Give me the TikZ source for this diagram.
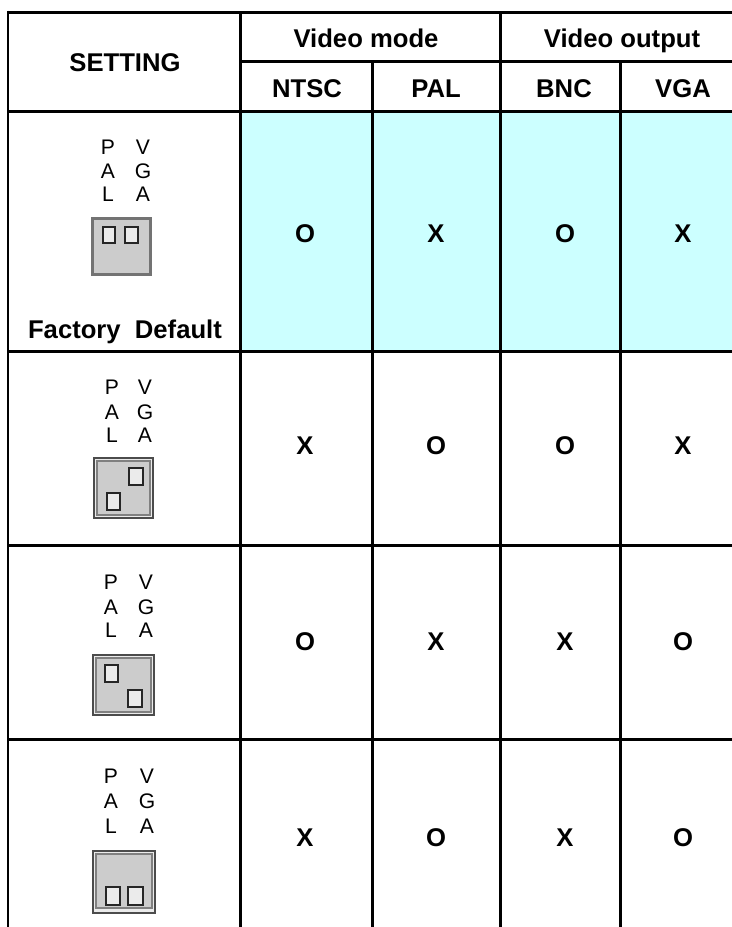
\documentclass[tikz,border=0pt]{standalone}
\usepackage{fontspec}
\setmainfont{Liberation Sans}
\definecolor{rowcolor}{HTML}{CCFFFF}

\begin{document}
\begin{tikzpicture}[x=0.02cm, y=-0.02cm,
    rule/.style={line width=0.06cm, black},
    jumperbox/.style={draw=black!70, line width=0.03cm, fill=black!8},
    jumperrim/.style={draw=black!50, line width=0.025cm, fill=black!20},
    jumperpin/.style={draw=black!85, line width=0.04cm, fill=black!8}]

  \useasboundingbox (0,0) rectangle (732,927);

  % Fondo de la fila de fabrica
  \fill[rowcolor] (240,111) rectangle (732,351);

  % Lineas de la tabla
  \draw[rule] (8,12) -- (732,12);
  \draw[rule] (240,61) -- (732,61);
  \draw[rule] (8,111) -- (732,111);
  \draw[rule] (8,351) -- (732,351);
  \draw[rule] (8,545) -- (732,545);
  \draw[rule] (8,739) -- (732,739);
  \draw[rule] (8,10.5) -- (8,927);
  \draw[rule] (240,12) -- (240,927);
  \draw[rule] (372,61) -- (372,927);
  \draw[rule] (500,12) -- (500,927);
  \draw[rule] (620,61) -- (620,927);

  % Encabezados
  \begin{scope}[every node/.style={anchor=base, font=\fontsize{14.6}{16}\selectfont\bfseries}]
    \node (setting) at (125,71) {SETTING};
    \node (mode) at (366,47) {Video mode};
    \node (output) at (622,47) {Video output};
    \node (ntsc) at (307,97) {NTSC};
    \node (pal) at (436,97) {PAL};
    \node (bnc) at (564,97) {BNC};
    \node (vga) at (683,97) {VGA};
    \node (default) at (125,338) {Factory\ \ Default};
  \end{scope}

  % Marcas
  \begin{scope}[every node/.style={font=\fontsize{14.6}{16}\selectfont\bfseries}]
    \node (a1) at (305,234) {O};
    \node (a2) at (436,234) {X};
    \node (a3) at (565,234) {O};
    \node (a4) at (683,234) {X};
    \node (b1) at (305,446) {X};
    \node (b2) at (436,446) {O};
    \node (b3) at (565,446) {O};
    \node (b4) at (683,446) {X};
    \node (c1) at (305,642) {O};
    \node (c2) at (436,642) {X};
    \node (c3) at (565,642) {X};
    \node (c4) at (683,642) {O};
    \node (d1) at (305,838) {X};
    \node (d2) at (436,838) {O};
    \node (d3) at (565,838) {X};
    \node (d4) at (683,838) {O};
  \end{scope}

  % Rotulos de los puentes
  \begin{scope}[every node/.style={font=\fontsize{12}{14}\selectfont, inner sep=0pt}]
    \node (p1) at (108,147) {P};
    \node (p2) at (108,171) {A};
    \node (p3) at (108,194) {L};
    \node (v1) at (143,147) {V};
    \node (v2) at (143,171) {G};
    \node (v3) at (143,194) {A};

    \node (q1) at (112,387) {P};
    \node (q2) at (112,412) {A};
    \node (q3) at (112,435) {L};
    \node (w1) at (145,387) {V};
    \node (w2) at (145,412) {G};
    \node (w3) at (145,435) {A};

    \node (r1) at (111,582) {P};
    \node (r2) at (111,607) {A};
    \node (r3) at (111,630) {L};
    \node (x1) at (146,582) {V};
    \node (x2) at (146,607) {G};
    \node (x3) at (146,630) {A};

    \node (s1) at (111,776) {P};
    \node (s2) at (111,801) {A};
    \node (s3) at (111,826) {L};
    \node (y1) at (147,776) {V};
    \node (y2) at (147,801) {G};
    \node (y3) at (147,826) {A};
  \end{scope}

  % Primer puente
  \draw[jumperrim, draw=black!55, line width=0.06cm] (92,218) rectangle (150,274);
  \draw[jumperpin] (103,227) rectangle (115,243);
  \draw[jumperpin] (125,227) rectangle (138,243);

  % Segundo puente
  \draw[jumperbox] (94,458) rectangle (153,518);
  \draw[jumperrim] (97,461) rectangle (150,515);
  \draw[jumperpin] (129,468) rectangle (143,485);
  \draw[jumperpin] (107,493) rectangle (120,510);

  % Tercer puente
  \draw[jumperbox] (93,655) rectangle (154,715);
  \draw[jumperrim] (96,658) rectangle (151,712);
  \draw[jumperpin] (105,665) rectangle (118,682);
  \draw[jumperpin] (128,690) rectangle (142,707);

  % Cuarto puente
  \draw[jumperbox] (93,851) rectangle (155,913);
  \draw[jumperrim] (96,854) rectangle (152,908);
  \draw[jumperpin] (106,887) rectangle (120,905);
  \draw[jumperpin] (128,887) rectangle (143,905);

\end{tikzpicture}
\end{document}
